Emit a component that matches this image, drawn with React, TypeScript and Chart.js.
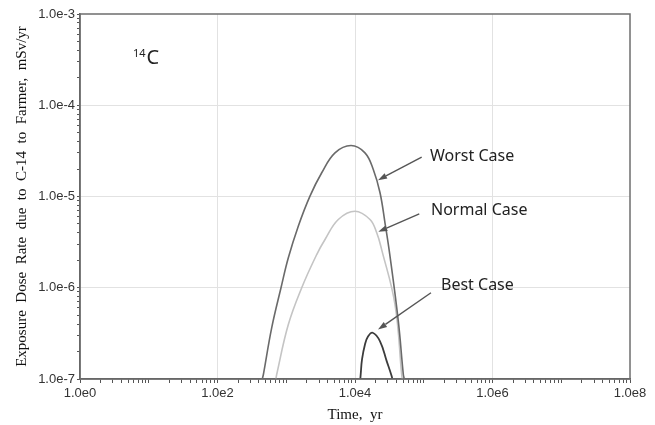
import React, { useEffect, useRef } from "react";
import { Chart, registerables } from "chart.js";

Chart.register(...registerables);

// Time (yr) and dose rate (mSv/yr)
const worstTime = [440, 449, 465, 614, 839, 1072, 1496, 2213, 3281, 5117, 8750, 13960, 18450, 23120, 27290, 32280, 42660, 50470, 52120, 53500];
const worstDose = [9e-8, 1.0e-7, 1.12e-7, 3.64e-7, 1.0e-6, 2.13e-6, 4.73e-6, 1.01e-5, 1.82e-5, 3.01e-5, 3.62e-5, 3.01e-5, 1.98e-5, 1.1e-5, 5.15e-6, 2.22e-6, 4.3e-7, 1.12e-7, 1.0e-7, 9e-8];

const normalTime = [700, 726, 1072, 1679, 2773, 3664, 5715, 10000, 16520, 20700, 24430, 38190, 47750, 49200];
const normalDose = [9.5e-8, 1.12e-7, 3.95e-7, 1.0e-6, 2.31e-6, 3.38e-6, 5.6e-6, 6.9e-6, 5.6e-6, 4.0e-6, 2.62e-6, 6.55e-7, 1.12e-7, 9.5e-8];

const bestTime = [11800, 12100, 12650, 13960, 15450, 18070, 23120, 28910, 34200, 35200];
const bestDose = [9e-8, 1.12e-7, 1.64e-7, 2.39e-7, 2.92e-7, 3.21e-7, 2.59e-7, 1.57e-7, 1.07e-7, 9.5e-8];

const xTickValues = [1, 1e2, 1e4, 1e6, 1e8];
const xTickLabels = ["1.0e0", "1.0e2", "1.0e4", "1.0e6", "1.0e8"];
const yTickValues = [1e-7, 1e-6, 1e-5, 1e-4, 1e-3];
const yTickLabels = ["1.0e-7", "1.0e-6", "1.0e-5", "1.0e-4", "1.0e-3"];

const seriesNames = ["Worst Case", "Normal Case", "Best Case"];

// annotation text anchors and arrows in data coordinates
const labelTime = [1.233e5, 1.274e5, 1.782e5];
const labelDose = [2.74e-5, 7.11e-6, 1.067e-6];
const arrowFromTime = [93300, 86100, 1.274e5];
const arrowFromDose = [2.7e-5, 6.45e-6, 8.81e-7];
const arrowToTime = [21620, 21830, 21620];
const arrowToDose = [1.51e-5, 4.1e-6, 3.48e-7];
const nuclideTime = 5.9;
const nuclideDose = 3.25e-4;

const near = (a: number, b: number) => Math.abs(Math.log10(a) - Math.log10(b)) < 1e-6;

function allTicks(lo: number, hi: number) {
  const out: { value: number }[] = [];
  for (let e = lo; e <= hi; e++) {
    for (let m = 1; m <= 9; m++) {
      if (e === hi && m > 1) break;
      out.push({ value: m * Math.pow(10, e) });
    }
  }
  return out;
}

const overlay = {
  id: "overlay",
  afterDatasetsDraw(chart: any) {
    const { ctx, chartArea, scales } = chart;
    const xs = scales.x;
    const ys = scales.y;
    ctx.save();
    // frame
    ctx.strokeStyle = "#6e6e6e";
    ctx.lineWidth = 1.5;
    ctx.strokeRect(chartArea.left, chartArea.top, chartArea.right - chartArea.left, chartArea.bottom - chartArea.top);

    // arrows
    ctx.strokeStyle = "#555";
    ctx.fillStyle = "#555";
    ctx.lineWidth = 1.4;
    for (let i = 0; i < seriesNames.length; i++) {
      const x1 = xs.getPixelForValue(arrowFromTime[i]);
      const y1 = ys.getPixelForValue(arrowFromDose[i]);
      const x2 = xs.getPixelForValue(arrowToTime[i]);
      const y2 = ys.getPixelForValue(arrowToDose[i]);
      const ang = Math.atan2(y2 - y1, x2 - x1);
      const hl = 9;
      const hw = 3;
      const bx = x2 - hl * Math.cos(ang);
      const by = y2 - hl * Math.sin(ang);
      ctx.beginPath();
      ctx.moveTo(x1, y1);
      ctx.lineTo(bx, by);
      ctx.stroke();
      ctx.beginPath();
      ctx.moveTo(x2, y2);
      ctx.lineTo(bx + hw * Math.sin(ang), by - hw * Math.cos(ang));
      ctx.lineTo(bx - hw * Math.sin(ang), by + hw * Math.cos(ang));
      ctx.closePath();
      ctx.fill();
    }

    // labels
    ctx.fillStyle = "#222";
    ctx.textBaseline = "middle";
    ctx.textAlign = "left";
    ctx.font = "16px 'Noto Sans', sans-serif";
    for (let i = 0; i < seriesNames.length; i++) {
      ctx.fillText(seriesNames[i], xs.getPixelForValue(labelTime[i]), ys.getPixelForValue(labelDose[i]));
    }

    // nuclide label 14C
    const nx = xs.getPixelForValue(nuclideTime);
    const ny = ys.getPixelForValue(nuclideDose);
    ctx.font = "11px 'Noto Sans', sans-serif";
    ctx.fillText("14", nx, ny - 5);
    const w = ctx.measureText("14").width;
    ctx.font = "20px 'Noto Sans', sans-serif";
    ctx.fillText("C", nx + w + 1, ny);
    ctx.restore();
  },
};

export default function App() {
  const ref = useRef<HTMLCanvasElement | null>(null);

  useEffect(() => {
    if (!ref.current) return;
    const mk = (t: number[], d: number[]) => t.map((v, i) => ({ x: v, y: d[i] }));
    const chart = new Chart(ref.current, {
      type: "line",
      data: {
        datasets: [
          { label: seriesNames[0], data: mk(worstTime, worstDose), borderColor: "#6a6a6a", borderWidth: 1.6, pointRadius: 0, tension: 0.4 },
          { label: seriesNames[1], data: mk(normalTime, normalDose), borderColor: "#c4c4c4", borderWidth: 1.6, pointRadius: 0, tension: 0.4 },
          { label: seriesNames[2], data: mk(bestTime, bestDose), borderColor: "#3c3c3c", borderWidth: 1.8, pointRadius: 0, tension: 0.4 },
        ],
      },
      options: {
        animation: false,
        responsive: false,
        layout: { padding: { top: 14, right: 25, left: 0, bottom: 0 } },
        plugins: { legend: { display: false }, tooltip: { enabled: false } },
        scales: {
          x: {
            type: "logarithmic",
            min: 1,
            max: 1e8,
            afterBuildTicks: (s: any) => {
              s.ticks = allTicks(0, 8);
            },
            afterFit: (s: any) => {
              s.height = 46;
            },
            ticks: {
              autoSkip: false,
              maxRotation: 0,
              minRotation: 0,
              padding: 3,
              color: "#333",
              font: { family: "'Liberation Sans', Arial, sans-serif", size: 13 },
              callback: (v: any) => {
                const i = xTickValues.findIndex((t) => near(t, Number(v)));
                return i >= 0 ? xTickLabels[i] : "";
              },
            },
            grid: {
              color: (c: any) => {
                const v = c.tick ? c.tick.value : 0;
                return v > 1 && v < 1e8 && xTickValues.some((t) => near(t, v)) ? "#e2e2e2" : "rgba(0,0,0,0)";
              },
              tickColor: "#555",
              tickLength: 4,
            },
            border: { color: "#555", width: 1.5 },
            title: {
              display: true,
              text: "Time,  yr",
              color: "#111",
              font: { family: "'Liberation Serif', serif", size: 15 },
              padding: { top: 0, bottom: 1 },
            },
          },
          y: {
            type: "logarithmic",
            min: 1e-7,
            max: 1e-3,
            afterBuildTicks: (s: any) => {
              s.ticks = allTicks(-7, -3);
            },
            afterFit: (s: any) => {
              s.width = 80;
            },
            ticks: {
              autoSkip: false,
              padding: 2,
              color: "#333",
              font: { family: "'Liberation Sans', Arial, sans-serif", size: 13 },
              callback: (v: any) => {
                const i = yTickValues.findIndex((t) => near(t, Number(v)));
                return i >= 0 ? yTickLabels[i] : "";
              },
            },
            grid: {
              color: (c: any) => {
                const v = c.tick ? c.tick.value : 0;
                return v > 1.01e-7 && v < 0.99e-3 && yTickValues.some((t) => near(t, v)) ? "#e2e2e2" : "rgba(0,0,0,0)";
              },
              tickColor: "#555",
              tickLength: 3,
            },
            border: { color: "#555", width: 1.5 },
            title: {
              display: true,
              text: "Exposure  Dose  Rate  due  to  C-14  to  Farmer,  mSv/yr",
              color: "#111",
              font: { family: "'Liberation Serif', serif", size: 15 },
              padding: { top: 13, bottom: 0 },
            },
          },
        },
      },
      plugins: [overlay],
    } as any);
    return () => chart.destroy();
  }, []);

  return (
    <div style={{ position: "fixed", left: 0, top: 0, width: 655, height: 425, background: "#fff" }}>
      <canvas ref={ref} width={655} height={425} style={{ width: 655, height: 425, display: "block" }} />
    </div>
  );
}
